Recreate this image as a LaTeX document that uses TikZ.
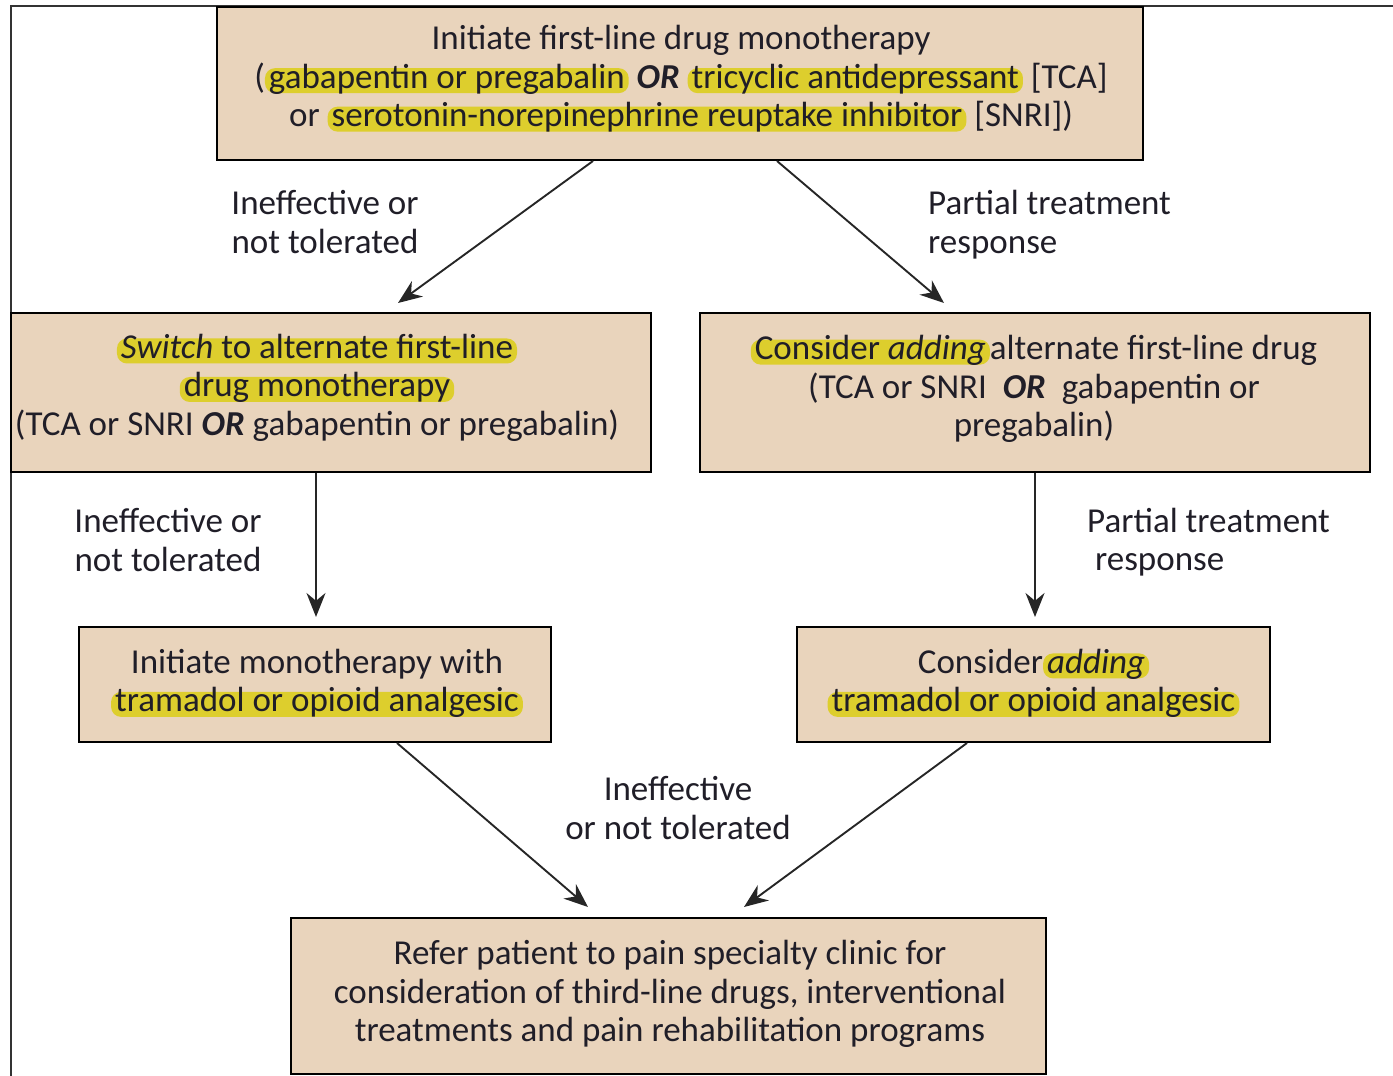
\documentclass[tikz,border=0pt]{standalone}
\usepackage{fontspec}
\setmainfont{Carlito}
\usetikzlibrary{arrows.meta}
\definecolor{boxfill}{RGB}{233,212,188}
\definecolor{hly}{RGB}{221,206,45}
\definecolor{txt}{RGB}{32,30,40}
\newcommand\hlt[1]{\tikz[baseline=(hlx.base)]\node[shape=rectangle,draw=none,fill=hly,minimum width=0pt,minimum height=0pt,outer sep=0pt,align=center,rounded corners=10pt,inner xsep=4pt,inner ysep=1pt,text height=19pt,text depth=4pt,text=txt](hlx){#1};}
\newcommand\bor{\textbf{\textit{OR}}}
\tikzset{
  stepbox/.style={draw=black,line width=2pt,fill=boxfill,inner sep=0pt},
  boxtext/.style={text=txt,align=center,inner sep=0pt,font=\fontsize{35}{38.5}\selectfont},
  lbl/.style={text=txt,inner sep=0pt,font=\fontsize{35}{38.5}\selectfont},
  arr/.style={draw=black!85,line width=1.9pt,-{Stealth[length=24pt,width=19pt]}}
}
\begin{document}
\begin{tikzpicture}[x=1pt,y=-1pt]
\useasboundingbox (0,0) rectangle (1393,1076);
\draw[line width=1.5pt,black!80] (11,1076) -- (11,6) -- (1393,6);

\node[stepbox,minimum width=926pt,minimum height=153pt] (top) at (680,83.5) {};
\node[boxtext] (topt) at (681,78.5)
  {Initiate first-line drug monotherapy\\
   (\hlt{gabapentin or pregabalin} \bor{} \hlt{tricyclic antidepressant} [TCA]\\
   or \hlt{serotonin-norepinephrine reuptake inhibitor} [SNRI])};

\node[stepbox,minimum width=640pt,minimum height=159pt] (lm) at (331,392.5) {};
\node[boxtext] (lmt) at (317,390)
  {\hlt{\textit{Switch} to alternate first-line}\\
   \hlt{drug monotherapy}\\
   (TCA or SNRI \bor{} gabapentin or pregabalin)};

\node[stepbox,minimum width=670pt,minimum height=159pt] (rm) at (1035,392.5) {};
\node[boxtext] (rmt) at (1034,389)
  {\hlt{Consider \textit{adding}}alternate first-line drug\\
   (TCA or SNRI\ \ \bor\ \ gabapentin or\\
   pregabalin)};

\node[stepbox,minimum width=472pt,minimum height=115pt] (ll) at (315,684.5) {};
\node[boxtext] (llt) at (317,683)
  {Initiate monotherapy with\\
   \hlt{tramadol or opioid analgesic}};

\node[stepbox,minimum width=473pt,minimum height=115pt] (rl) at (1033.5,684.5) {};
\node[boxtext] (rlt) at (1033.5,683)
  {Consider\hlt{\textit{adding}}\\
   \hlt{tramadol or opioid analgesic}};

\node[stepbox,minimum width=755pt,minimum height=156pt] (bot) at (668.5,996) {};
\node[boxtext] (bott) at (670,994)
  {Refer patient to pain specialty clinic for\\
   consideration of third-line drugs, interventional\\
   treatments and pain rehabilitation programs};

\node[lbl,align=center] (l1) at (325,222) {Ineffective or\\not tolerated};
\node[lbl,align=left,anchor=west] (l2) at (928,224.5) {Partial treatment\\response};
\node[lbl,align=center] (l3) at (168,540) {Ineffective or\\not tolerated};
\node[lbl,align=left,anchor=west] (l4) at (1087,542) {Partial treatment\\\ response};
\node[lbl,align=center] (l5) at (678,808) {Ineffective\\or not tolerated};

\draw[arr] ([xshift=-87pt]top.south) -- ([xshift=67pt,yshift=9pt]lm.north);
\draw[arr] ([xshift=97pt]top.south) -- ([xshift=-91pt,yshift=9pt]rm.north);
\draw[arr] ([xshift=-15pt]lm.south) -- ([xshift=1pt,yshift=9pt]ll.north);
\draw[arr] (rm.south) -- ([xshift=1.5pt,yshift=9pt]rl.north);
\draw[arr] ([xshift=82pt]ll.south) -- ([xshift=-80.5pt,yshift=10pt]bot.north);
\draw[arr] ([xshift=-66.5pt]rl.south) -- ([xshift=75.5pt,yshift=10pt]bot.north);
\end{tikzpicture}
\end{document}
